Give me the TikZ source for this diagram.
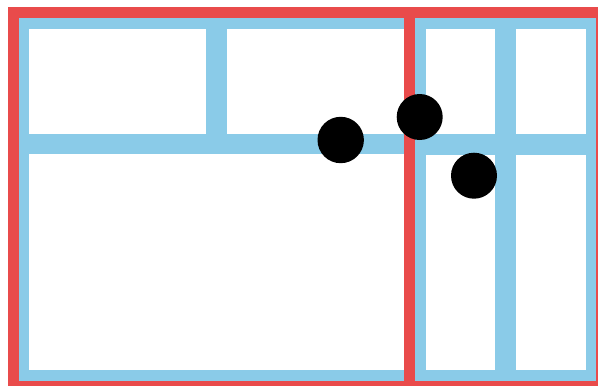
\documentclass[tikz,border=0pt]{standalone}
\usepackage{tikz}
\definecolor{framered}{HTML}{E94B4B}
\definecolor{gutterblue}{HTML}{8ACBE8}
\tikzset{
  panel/.style={fill=gutterblue},
  cell/.style={fill=white},
  frame/.style={draw=framered, line width=10.7pt},
  dot/.style={fill=black}
}
\begin{document}
\begin{tikzpicture}[x=1pt,y=-1pt]
\useasboundingbox (0,0) rectangle (598,386);
% blue panels
\fill[panel] (18,18) rectangle (409.5,381);
\fill[panel] (409.5,18) rectangle (596,381);
% white cells
\fill[cell] (29,29) rectangle (206.3,134);
\fill[cell] (227.3,29) rectangle (409.5,134);
\fill[cell] (29,154.3) rectangle (409.5,370);
\fill[cell] (425.5,29) rectangle (495,134);
\fill[cell] (516,29) rectangle (586,134);
\fill[cell] (425.5,154.5) rectangle (495,370);
\fill[cell] (516,154.5) rectangle (586,370);
% red frame
\draw[frame] (13.3,12.5) rectangle (601.5,386.5);
\draw[frame] (409.7,12.5) -- (409.7,386.5);
% dots
\fill[dot] (340.7,140) circle (23.2);
\fill[dot] (419.7,117) circle (23);
\fill[dot] (474,175.7) circle (23);
\end{tikzpicture}
\end{document}
